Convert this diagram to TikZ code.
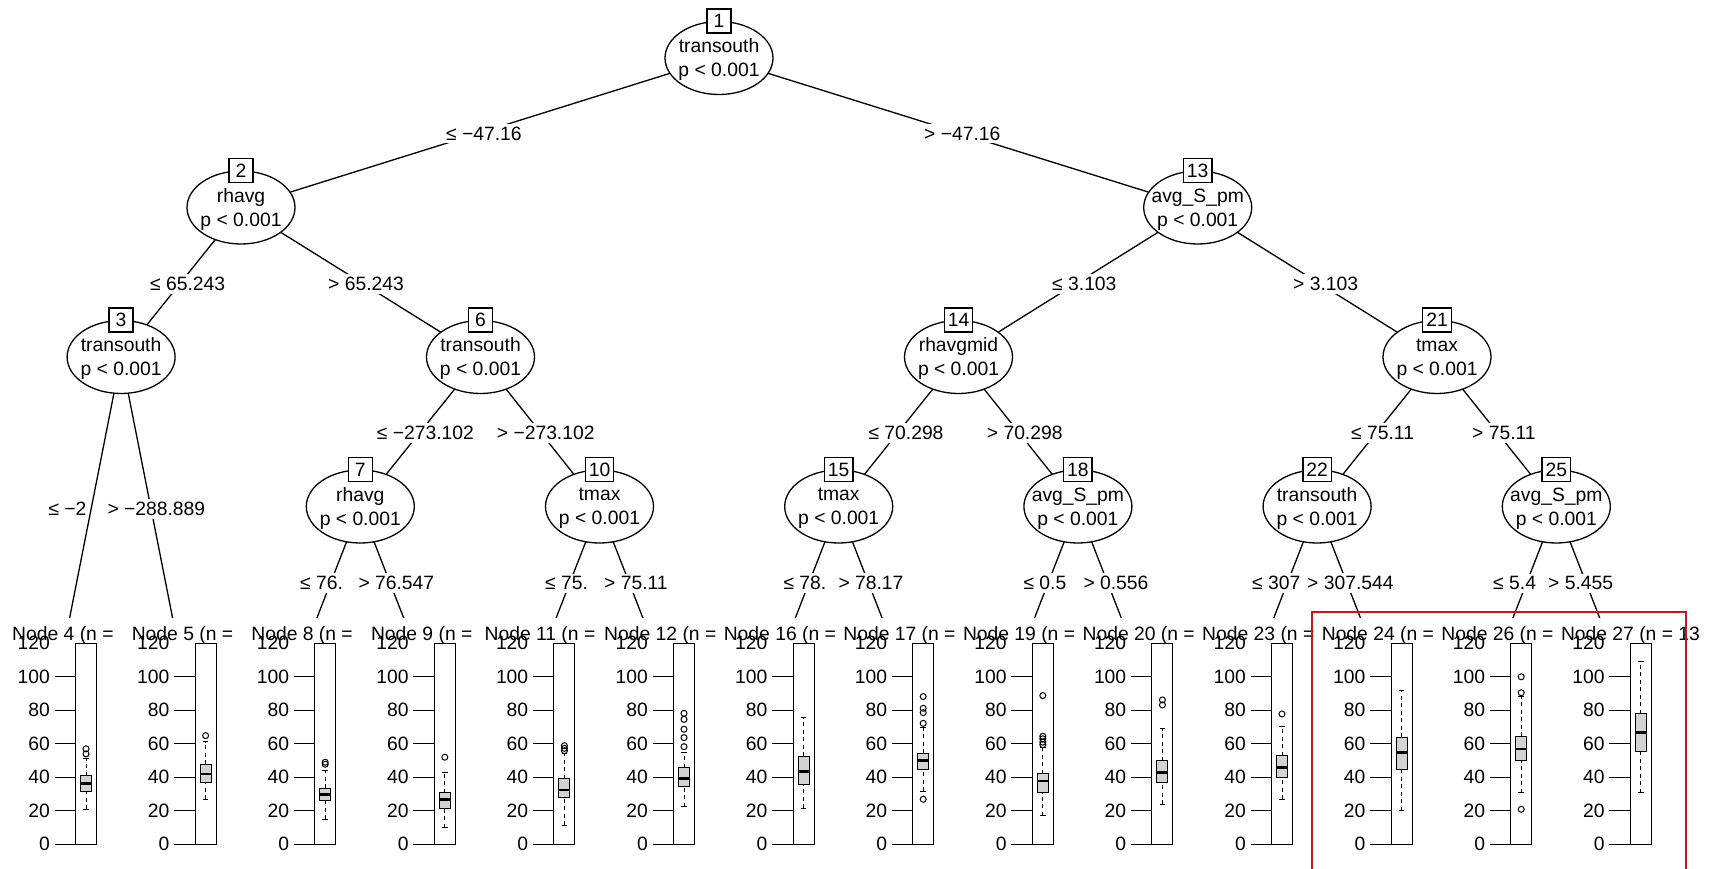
\documentclass[tikz,border=0pt]{standalone}
\usepackage{fontspec}
\setmainfont{Liberation Sans}
\usetikzlibrary{shapes.geometric,backgrounds}
\definecolor{boxgray}{RGB}{211,211,211}
\definecolor{redframe}{RGB}{200,25,25}
\tikzset{
  inode/.style={ellipse, draw, fill=white, line width=1.3pt, minimum width=108pt, minimum height=73pt, inner sep=0pt},
  idbox/.style={rectangle, draw, fill=white, line width=1.3pt, minimum width=24pt, minimum height=24pt, inner sep=3.5pt},
  ntxt/.style={align=center, inner sep=0pt},
  elab/.style={fill=white, inner xsep=2pt, inner ysep=3pt, anchor=west},
  edge/.style={line width=1.3pt},
  frm/.style={line width=1pt},
  whisk/.style={line width=1pt, dash pattern=on 4pt off 3.5pt},
  bx/.style={draw, fill=boxgray, line width=1pt},
  medl/.style={line width=2.8pt},
  tlab/.style={anchor=east, inner sep=0pt},
  leaflab/.style={anchor=base west, inner sep=0pt},
  redfr/.style={draw=redframe, line width=2pt}
}
\newcommand{\innernode}[5]{%
  \node[inode] (#1) at (#2,#3) {};
  \node[ntxt] (#1t) at (#2,{#3+2}) {#4\\p < 0.001};
  \node[idbox] (#1b) at (#2,{#3-37}) {#5};
}
\newcommand{\leafpanel}[2]{%
  \draw[frm] ({#2-10.5},643.3) rectangle ({#2+10.5},844.3);
  \foreach \v in {0,20,40,60,80,100}{\draw[frm] ({#2-31.5},{844.3-1.675*\v}) -- ({#2-10.5},{844.3-1.675*\v});}
  \foreach \v in {0,20,40,60,80,100,120}{\node[tlab] (tk#1-\v) at ({#2-36},{844.3-1.675*\v}) {\v};}
}
\newcommand{\lbxp}[6]{%
  \draw[whisk] (#1,{844.3-1.675*#2}) -- (#1,{844.3-1.675*#3});
  \draw[whisk] (#1,{844.3-1.675*#5}) -- (#1,{844.3-1.675*#6});
  \draw[frm] ({#1-2.8},{844.3-1.675*#2}) -- ({#1+2.8},{844.3-1.675*#2});
  \draw[frm] ({#1-2.8},{844.3-1.675*#6}) -- ({#1+2.8},{844.3-1.675*#6});
  \draw[bx] ({#1-5.5},{844.3-1.675*#3}) rectangle ({#1+5.5},{844.3-1.675*#5});
  \draw[medl] ({#1-5.5},{844.3-1.675*#4}) -- ({#1+5.5},{844.3-1.675*#4});
}
\newcommand{\loutl}[2]{\foreach \o in {#2}{\draw[frm] (#1,{844.3-1.675*\o}) circle (3);}}
\begin{document}
\begin{tikzpicture}[x=1pt,y=-1pt,font=\fontsize{19.3}{24}\selectfont]
\useasboundingbox (0,0) rectangle (1715,869);

% inner nodes
\innernode{n1}{719}{58}{transouth}{1}
\innernode{n2}{241}{207.5}{rhavg}{2}
\innernode{n13}{1197.7}{207.5}{avg\_S\_pm}{13}
\innernode{n3}{121.1}{357}{transouth}{3}
\innernode{n6}{480.5}{357}{transouth}{6}
\innernode{n14}{958.5}{357}{rhavgmid}{14}
\innernode{n21}{1437}{357}{tmax}{21}
\innernode{n7}{360.3}{506.5}{rhavg}{7}
\innernode{n10}{599.5}{506.5}{tmax}{10}
\innernode{n15}{838.7}{506.5}{tmax}{15}
\innernode{n18}{1077.9}{506.5}{avg\_S\_pm}{18}
\innernode{n22}{1317.1}{506.5}{transouth}{22}
\innernode{n25}{1556.3}{506.5}{avg\_S\_pm}{25}

% leaf edge end points
\coordinate (e4) at (69.6,618);
\coordinate (e5) at (172.6,618);
\coordinate (e8) at (316.9,618);
\coordinate (e9) at (403.7,618);
\coordinate (e11) at (556.1,618);
\coordinate (e12) at (642.9,618);
\coordinate (e16) at (795.3,618);
\coordinate (e17) at (882.1,618);
\coordinate (e19) at (1034.5,618);
\coordinate (e20) at (1121.3,618);
\coordinate (e23) at (1273.7,618);
\coordinate (e24) at (1360.5,618);
\coordinate (e26) at (1512.9,618);
\coordinate (e27) at (1599.7,618);

\begin{scope}[on background layer]
\draw[edge] (n1.center) -- (n2.center);
\draw[edge] (n1.center) -- (n13.center);
\draw[edge] (n2.center) -- (n3.center);
\draw[edge] (n2.center) -- (n6.center);
\draw[edge] (n13.center) -- (n14.center);
\draw[edge] (n13.center) -- (n21.center);
\draw[edge] (n6.center) -- (n7.center);
\draw[edge] (n6.center) -- (n10.center);
\draw[edge] (n14.center) -- (n15.center);
\draw[edge] (n14.center) -- (n18.center);
\draw[edge] (n21.center) -- (n22.center);
\draw[edge] (n21.center) -- (n25.center);
\draw[edge] (n3.center) -- (e4);
\draw[edge] (n3.center) -- (e5);
\draw[edge] (n7.center) -- (e8);
\draw[edge] (n7.center) -- (e9);
\draw[edge] (n10.center) -- (e11);
\draw[edge] (n10.center) -- (e12);
\draw[edge] (n15.center) -- (e16);
\draw[edge] (n15.center) -- (e17);
\draw[edge] (n18.center) -- (e19);
\draw[edge] (n18.center) -- (e20);
\draw[edge] (n22.center) -- (e23);
\draw[edge] (n22.center) -- (e24);
\draw[edge] (n25.center) -- (e26);
\draw[edge] (n25.center) -- (e27);
\end{scope}

% edge labels
\node[elab] (l2) at (444,133.5) {≤ −47.16};
\node[elab] (l13) at (922,133.5) {> −47.16};
\node[elab] (l3) at (148,284) {≤ 65.243};
\node[elab] (l6) at (326,284) {> 65.243};
\node[elab] (l14) at (1050,284) {≤ 3.103};
\node[elab] (l21) at (1291,284) {> 3.103};
\node[elab] (l7) at (374.7,433) {≤ −273.102};
\node[elab] (l10) at (494.7,433) {> −273.102};
\node[elab] (l15) at (866.3,433) {≤ 70.298};
\node[elab] (l18) at (984.7,433) {> 70.298};
\node[elab] (l22) at (1349,433) {≤ 75.11};
\node[elab] (l25) at (1470,433) {> 75.11};
\node[elab] (l4) at (46.3,509) {≤ −2};
\node[elab] (l5) at (105.3,509) {> −288.889};
\node[elab] (l8) at (298,583.3) {≤ 76.};
\node[elab] (l9) at (356.3,583.3) {> 76.547};
\node[elab] (l11) at (543,583.3) {≤ 75.};
\node[elab] (l12) at (602,583.3) {> 75.11};
\node[elab] (l16) at (781.3,583.3) {≤ 78.};
\node[elab] (l17) at (836.3,583.3) {> 78.17};
\node[elab] (l19) at (1021.3,583.3) {≤ 0.5};
\node[elab] (l20) at (1081.3,583.3) {> 0.556};
\node[elab] (l23) at (1250,583.3) {≤ 307};
\node[elab] (l24) at (1305,583.3) {> 307.544};
\node[elab] (l26) at (1491,583.3) {≤ 5.4};
\node[elab] (l27) at (1546,583.3) {> 5.455};

% leaf labels
\node[leaflab] (lf4) at (12,640) {Node 4 (n =};
\node[leaflab] (lf5) at (131.6,640) {Node 5 (n =};
\node[leaflab] (lf8) at (251.2,640) {Node 8 (n =};
\node[leaflab] (lf9) at (370.8,640) {Node 9 (n =};
\node[leaflab] (lf11) at (484.4,640) {Node 11 (n =};
\node[leaflab] (lf12) at (604,640) {Node 12 (n =};
\node[leaflab] (lf16) at (723.6,640) {Node 16 (n =};
\node[leaflab] (lf17) at (843.2,640) {Node 17 (n =};
\node[leaflab] (lf19) at (962.8,640) {Node 19 (n =};
\node[leaflab] (lf20) at (1082.4,640) {Node 20 (n =};
\node[leaflab] (lf23) at (1202,640) {Node 23 (n =};
\node[leaflab] (lf24) at (1321.6,640) {Node 24 (n =};
\node[leaflab] (lf26) at (1441.2,640) {Node 26 (n =};
\node[leaflab] (lf27) at (1560.8,640) {Node 27 (n = 13};

% leaf panels
\leafpanel{4}{86}
\leafpanel{5}{205.6}
\leafpanel{8}{325.2}
\leafpanel{9}{444.8}
\leafpanel{11}{564.4}
\leafpanel{12}{684}
\leafpanel{16}{803.6}
\leafpanel{17}{923.2}
\leafpanel{19}{1042.8}
\leafpanel{20}{1162.4}
\leafpanel{23}{1282}
\leafpanel{24}{1401.6}
\leafpanel{26}{1521.2}
\leafpanel{27}{1640.8}

% boxplots
\lbxp{86}{21}{31.4}{36.2}{40.8}{51}
\loutl{86}{54,57}
\lbxp{205.6}{27}{36.8}{42}{47.8}{61.3}
\loutl{205.6}{64.9}
\lbxp{325.2}{15}{26}{29.7}{33.4}{44}
\loutl{325.2}{47.8,49}
\lbxp{444.8}{10}{21.1}{26.9}{30.8}{43}
\loutl{444.8}{52}
\lbxp{564.4}{11.5}{28}{32.4}{39}{54}
\loutl{564.4}{55.9,57.3,58.9}
\lbxp{684}{22.5}{34.8}{39.4}{45.8}{55}
\loutl{684}{58.3,63.7,68.7,74.6,78.2}
\lbxp{803.6}{21.5}{36}{43.6}{52.7}{75.8}
\lbxp{923.2}{31.8}{44.8}{50}{54.3}{69.9}
\loutl{923.2}{26.9,72.2,78.6,81.2,88.2}
\lbxp{1042.8}{17}{30.8}{37.8}{42}{58}
\loutl{1042.8}{59.5,61,63,64.5,88.8}
\lbxp{1162.4}{24}{36.8}{43}{49.8}{69}
\loutl{1162.4}{83.2,86.2}
\lbxp{1282}{27}{39.8}{46}{52.9}{70.6}
\loutl{1282}{77.8}
\lbxp{1401.6}{20}{44.8}{54.7}{63.9}{92}
\lbxp{1521.2}{30.8}{49.9}{56.9}{64.5}{88}
\loutl{1521.2}{20.9,90.5,100}
\lbxp{1640.8}{30.8}{55.7}{66.9}{77.8}{109}

% red highlight frame
\draw[redfr] (1311.7,880) -- (1311.7,612.3) -- (1685.7,612.3) -- (1685.7,880);
\end{tikzpicture}
\end{document}
